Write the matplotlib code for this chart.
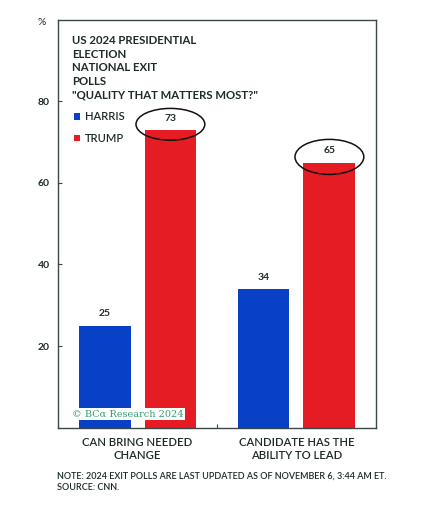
import matplotlib.pyplot as plt
import numpy as np
from matplotlib.patches import Ellipse

categories = ["CAN BRING NEEDED\nCHANGE", "CANDIDATE HAS THE\nABILITY TO LEAD"]
harris = [25, 34]
trump = [73, 65]
circled = [73, 65]  # trump values highlighted with an ellipse

BLUE = "#0841c6"
RED = "#e51c24"
FRAME = "#3c4848"
TEXT = "#1e2a2a"

plt.rcParams["font.family"] = ["Lato", "DejaVu Sans"]

fig = plt.figure(figsize=(4.32, 5.12), dpi=100)
ax = fig.add_axes([0.1343, 0.165, 0.736, 0.796])

x = np.arange(len(categories))
off = 0.207
w = 0.326
ax.bar(x - off, harris, w, color=BLUE, label="HARRIS")
ax.bar(x + off, trump, w, color=RED, label="TRUMP")

for xi, v in zip(x - off, harris):
    ax.text(xi, v + 1.8, str(v), ha="center", va="bottom", fontsize=7.5,
            fontweight="bold", color=TEXT)
for xi, v in zip(x + off, trump):
    ax.text(xi, v + 1.8, str(v), ha="center", va="bottom", fontsize=7.5,
            fontweight="bold", color=TEXT)

for xi, v, h in zip(x + off, circled, [7.8, 8.6]):
    ax.add_patch(Ellipse((xi, v + 1.4), 0.433, h, fill=False,
                         edgecolor="#111111", lw=1.1, zorder=5))

ax.set_xlim(-0.5, 1.5)
ax.set_ylim(0, 100)
ax.set_yticks([20, 40, 60, 80])
ax.set_xticks([0.5])
ax.set_xticklabels([""])
ax.tick_params(axis="both", direction="in", length=3, color=FRAME,
               labelsize=7.5, labelcolor=TEXT, pad=6)
for lbl in ax.get_yticklabels():
    lbl.set_fontweight("bold")
for s in ax.spines.values():
    s.set_color(FRAME)
    s.set_linewidth(1.0)

for xi, c in zip(x, categories):
    ax.text(xi, -2.3, c, ha="center", va="top", fontsize=8.1, color=TEXT,
            fontweight="semibold", linespacing=1.2, transform=ax.transData)

ax.text(0.044, 0.963,
        'US 2024 PRESIDENTIAL\nELECTION\nNATIONAL EXIT\nPOLLS\n"QUALITY THAT MATTERS MOST?"',
        transform=ax.transAxes, ha="left", va="top", fontsize=8.2,
        fontweight="bold", color=TEXT, linespacing=1.3)

leg = ax.legend(loc="upper left", bbox_to_anchor=(0.02, 0.8), frameon=False,
                fontsize=8, handlelength=0.55, handleheight=0.55,
                handletextpad=0.4, labelspacing=0.95)
for t in leg.get_texts():
    t.set_fontweight("semibold")
    t.set_color(TEXT)

ax.text(0.045, 0.022, "\u00a9 BC\u03b1 Research 2024", transform=ax.transAxes,
        ha="left", va="bottom", fontsize=7, family=["DejaVu Serif"],
        color="#2f9e6e", zorder=6,
        bbox=dict(facecolor="white", edgecolor="none", pad=1.0))

fig.text(0.097, 0.957, "%", fontsize=7.5, color=TEXT, ha="center", va="center")

fig.text(0.132, 0.0586,
         "NOTE: 2024 EXIT POLLS ARE LAST UPDATED AS OF NOVEMBER 6, 3:44 AM ET.\nSOURCE: CNN.",
         fontsize=6.45, color=TEXT, ha="left", va="center", fontweight="semibold",
         linespacing=1.25)

fig.savefig("out.png", dpi=100)
